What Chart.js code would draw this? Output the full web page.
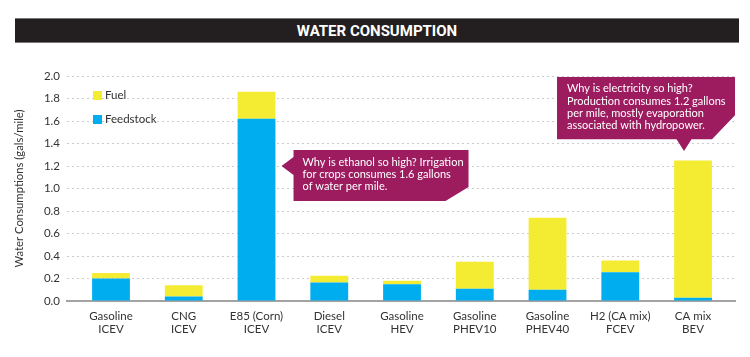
<!DOCTYPE html>
<html><head><meta charset="utf-8">
<script src="https://cdn.jsdelivr.net/npm/chart.js@4"></script>
<style>
body{margin:0;background:#fff;width:750px;height:357px;overflow:hidden;position:relative}
#title{position:absolute;left:15px;top:18px;width:724px;height:25px;box-sizing:border-box;background:#231f20;border-top:1px solid #777;border-bottom:1px solid #777;color:#fff;font:bold 15px Roboto;text-align:center;line-height:25px}
#c{position:absolute;left:0;top:0}
</style></head><body>
<canvas id="c" width="750" height="357"></canvas>
<div id="title">WATER CONSUMPTION</div>
<script>
const categories = [['Gasoline','ICEV'],['CNG','ICEV'],['E85 (Corn)','ICEV'],['Diesel','ICEV'],['Gasoline','HEV'],['Gasoline','PHEV10'],['Gasoline','PHEV40'],['H2 (CA mix)','FCEV'],['CA mix','BEV']];
const feedstock = [0.20, 0.04, 1.62, 0.165, 0.15, 0.11, 0.10, 0.255, 0.03];
const fuel      = [0.05, 0.10, 0.24, 0.06, 0.03, 0.24, 0.64, 0.105, 1.22];
const yTicks = [0, 0.2, 0.4, 0.6, 0.8, 1.0, 1.2, 1.4, 1.6, 1.8, 2.0];
const seriesNames = ['Feedstock', 'Fuel'];
const notes = [
  {cat: 2, text: ['Why is ethanol so high? Irrigation', 'for crops consumes 1.6 gallons', 'of water per mile.']},
  {cat: 8, text: ['Why is electricity so high?', 'Production consumes 1.2 gallons', 'per mile, mostly evaporation', 'associated with hydropower.']}
];

const BLUE = '#00aeef', YELLOW = '#f4ec33', MAG = '#9c1c5f', TXT = '#333333';
const FONT = 'Lato';

const legendPlugin = {
  id: 'insideLegend',
  afterDatasetsDraw(chart) {
    const {ctx, chartArea} = chart;
    const items = chart.data.datasets.slice().reverse();
    ctx.save();
    ctx.font = '11.5px ' + FONT;
    ctx.textBaseline = 'middle';
    items.forEach((ds, i) => {
      const x = chartArea.left + 26, y = chartArea.top + 15 + i * 24;
      ctx.fillStyle = ds.backgroundColor;
      ctx.fillRect(x, y, 9, 9);
      ctx.fillStyle = TXT;
      ctx.fillText(ds.label, x + 12, y + 4.5);
    });
    ctx.restore();
  }
};

const calloutPlugin = {
  id: 'callouts',
  afterDraw(chart) {
    const {ctx} = chart;
    const xs = chart.scales.x, ys = chart.scales.y;
    ctx.save();
    ctx.font = '11px ' + FONT;
    ctx.textBaseline = 'middle';
    {
      const n = notes[0];
      const tipX = xs.getPixelForValue(n.cat) + 25, tipY = ys.getPixelForValue(1.2);
      const L = tipX + 12, T = tipY - 16, R = L + 175, B = T + 51;
      ctx.fillStyle = MAG;
      ctx.beginPath();
      ctx.moveTo(L, T); ctx.lineTo(R, T); ctx.lineTo(R, B - 14); ctx.lineTo(R - 23, B);
      ctx.lineTo(L, B); ctx.lineTo(L, tipY + 9); ctx.lineTo(tipX, tipY); ctx.lineTo(L, tipY - 9);
      ctx.closePath(); ctx.fill();
      ctx.fillStyle = '#fff';
      n.text.forEach((t, i) => ctx.fillText(t, L + 9, T + 12.7 + i * 12));
    }
    {
      const n = notes[1];
      const total = feedstock[n.cat] + fuel[n.cat];
      const tipX = xs.getPixelForValue(n.cat) - 9, tipY = ys.getPixelForValue(total) - 9.5;
      const B = tipY - 11.7, T = B - 62.3, L = tipX - 127, R = tipX + 51;
      ctx.fillStyle = MAG;
      ctx.beginPath();
      ctx.moveTo(L, T); ctx.lineTo(R, T); ctx.lineTo(R, B - 24); ctx.lineTo(R - 23, B);
      ctx.lineTo(tipX + 7.5, B); ctx.lineTo(tipX, tipY); ctx.lineTo(tipX - 7.5, B);
      ctx.lineTo(L, B); ctx.closePath(); ctx.fill();
      ctx.fillStyle = '#fff';
      n.text.forEach((t, i) => ctx.fillText(t, L + 10, T + 11.8 + i * 12.3));
    }
    ctx.restore();
  }
};

new Chart(document.getElementById('c'), {
  type: 'bar',
  data: {
    labels: categories.map((_, i) => i),
    datasets: [
      {label: seriesNames[0], data: feedstock, backgroundColor: BLUE, barPercentage: 0.52, categoryPercentage: 1},
      {label: seriesNames[1], data: fuel, backgroundColor: YELLOW, barPercentage: 0.52, categoryPercentage: 1}
    ]
  },
  options: {
    responsive: false,
    animation: false,
    devicePixelRatio: 1,
    layout: {padding: {left: 0, right: 15, top: 76, bottom: 15}},
    plugins: {legend: {display: false}, tooltip: {enabled: false}},
    scales: {
      x: {
        type: 'linear', stacked: true, offset: false,
        min: -0.605, max: 8.577,
        afterBuildTicks: (s) => { s.ticks = categories.map((_, i) => ({value: i})); },
        afterFit: (s) => { s.height = 41; },
        ticks: {
          autoSkip: false, maxRotation: 0, padding: 8,
          color: TXT, font: {family: FONT, size: 11.5}, lineHeight: 1,
          callback: (v) => categories[v] || ''
        },
        grid: {display: false, drawTicks: false},
        border: {display: true, color: '#a3a3a3', width: 2}
      },
      y: {
        stacked: true, min: 0, max: 2,
        afterBuildTicks: (s) => { s.ticks = yTicks.map(v => ({value: v})); },
        afterFit: (s) => { s.width = 67; },
        ticks: {color: TXT, font: {family: FONT, size: 11.5}, padding: 7, callback: (v) => Number(v).toFixed(1)},
        grid: {color: '#cccccc', lineWidth: 1, drawTicks: false},
        border: {display: false, dash: [2, 3]},
        title: {display: true, text: 'Water Consumptions (gals/mile)', color: TXT, font: {family: FONT, size: 11.3}, padding: {top: 13, bottom: 0}}
      }
    }
  },
  plugins: [legendPlugin, calloutPlugin]
});
</script>
</body></html>
